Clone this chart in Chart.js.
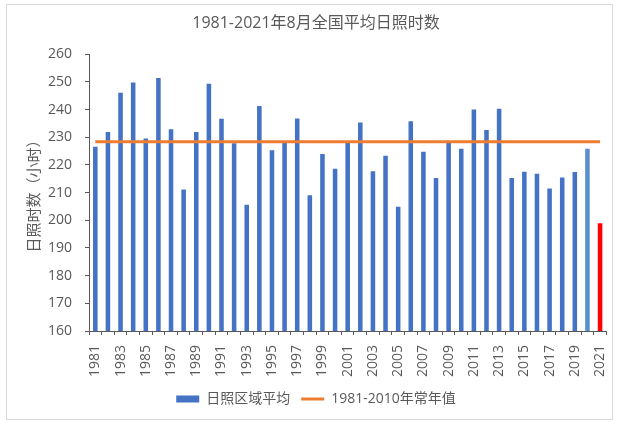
<!DOCTYPE html>
<html>
<head>
<meta charset="utf-8">
<script src="https://cdn.jsdelivr.net/npm/chart.js@4.4.1/dist/chart.umd.min.js"></script>
<style>
  html, body { margin: 0; padding: 0; background: #fff; }
  #frame {
    position: absolute; left: 6px; top: 4px; width: 605px; height: 414px;
    border: 1px solid #d9d9d9;
  }
  #wrap { position: absolute; left: 0; top: 0; width: 627px; height: 423px; }
</style>
</head>
<body>
<div id="frame"></div>
<div id="wrap"><canvas id="chart"></canvas></div>
<script>
  // 年份
  const years = [];
  for (let y = 1981; y <= 2021; y++) years.push(String(y));

  // 日照区域平均（小时）
  const sunshine = [
    226.6, 231.9, 246.1, 249.8, 229.5, 251.4, 232.9, 211.1, 231.9, 249.3,
    236.7, 227.8, 205.6, 241.3, 225.3, 228.0, 236.8, 209.0, 223.9, 218.6,
    228.0, 235.3, 217.7, 223.3, 204.9, 235.8, 224.8, 215.3, 228.0, 225.8,
    240.0, 232.6, 240.3, 215.3, 217.5, 216.8, 211.5, 215.5, 217.4, 225.8,
    198.9
  ];

  // 1981-2010年常年值
  const normalValue = 228.4;
  const normal = years.map(() => normalValue);

  const yTicks = [160, 170, 180, 190, 200, 210, 220, 230, 240, 250, 260];

  const barColors = years.map((y) => {
    if (y === "2021") return "#FF0000";
    if (y === "2020") return "#5B8FCB";
    return "#4472C4";
  });

  const textColor = "#595959";
  const font = "'Open Sans', 'Noto Sans CJK SC', sans-serif";

  new Chart(document.getElementById("chart"), {
    data: {
      labels: years,
      datasets: [
        {
          type: "line",
          label: "1981-2010年常年值",
          data: normal,
          borderColor: "#ED7D31",
          backgroundColor: "#ED7D31",
          borderWidth: 3,
          pointRadius: 0,
          order: 0,
        },
        {
          type: "bar",
          label: "日照区域平均",
          data: sunshine,
          backgroundColor: barColors,
          barPercentage: 0.36,
          categoryPercentage: 1,
          order: 1,
        },
      ],
    },
    options: {
      responsive: true,
      maintainAspectRatio: false,
      animation: false,
      layout: { padding: { left: 16, right: 11, top: 6, bottom: 7 } },
      plugins: {
        title: {
          display: true,
          text: "1981-2021年8月全国平均日照时数",
          color: textColor,
          font: { family: font, size: 16, weight: "normal" },
          padding: { top: 8, bottom: 21 },
        },
        legend: {
          position: "bottom",
          labels: {
            color: textColor,
            font: { family: font, size: 14 },
            usePointStyle: true,
            pointStyleWidth: 23,
            boxHeight: 7,
            padding: 11,
            generateLabels: () => [
              { text: "日照区域平均", fillStyle: "#4472C4", strokeStyle: "#4472C4", lineWidth: 0, fontColor: textColor, pointStyle: "rect" },
              { text: "1981-2010年常年值", fillStyle: "#ED7D31", strokeStyle: "#ED7D31", lineWidth: 3, fontColor: textColor, pointStyle: "line" },
            ],
          },
        },
        tooltip: { enabled: false },
      },
      scales: {
        x: {
          offset: true,
          afterFit: (scale) => {
            scale.height = 50;
          },
          grid: {
            display: true,
            drawOnChartArea: false,
            offset: true,
            tickLength: 4,
            color: "#595959",
          },
          border: { color: "#595959", width: 1 },
          ticks: {
            autoSkip: false,
            maxRotation: 90,
            minRotation: 90,
            color: textColor,
            font: { family: font, size: 14 },
            padding: 10,
            callback: (v, i) => (i % 2 === 0 ? years[i] : ""),
          },
        },
        y: {
          min: 160,
          max: 260,
          afterBuildTicks: (axis) => {
            axis.ticks = yTicks.map((v) => ({ value: v }));
          },
          afterFit: (scale) => {
            scale.width = 73;
          },
          grid: {
            display: true,
            drawOnChartArea: false,
            tickLength: 4,
            color: "#595959",
          },
          border: { color: "#595959", width: 1 },
          ticks: {
            color: textColor,
            font: { family: font, size: 14 },
            padding: 13,
          },
          title: {
            display: true,
            text: "日照时数（小时）",
            color: textColor,
            font: { family: font, size: 15, lineHeight: 1 },
            padding: { top: 11, bottom: 0 },
          },
        },
      },
    },
  });
</script>
</body>
</html>
